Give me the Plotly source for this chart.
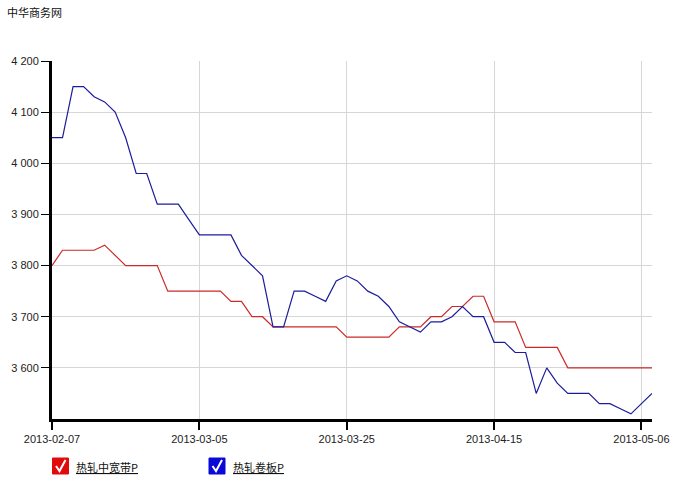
import plotly.graph_objects as go

# ---- data ----
series_names = ["热轧中宽带P", "热轧卷板P"]
red_values = [3800, 3830, 3830, 3830, 3830, 3840, 3820, 3800, 3800, 3800,
              3800, 3750, 3750, 3750, 3750, 3750, 3750, 3730, 3730, 3700,
              3700, 3680, 3680, 3680, 3680, 3680, 3680, 3680, 3660, 3660,
              3660, 3660, 3660, 3680, 3680, 3680, 3700, 3700, 3720, 3720,
              3740, 3740, 3690, 3690, 3690, 3640, 3640, 3640, 3640, 3600,
              3600, 3600, 3600, 3600, 3600, 3600, 3600, 3600]
blue_values = [4050, 4050, 4150, 4150, 4130, 4120, 4100, 4050, 3980, 3980,
               3920, 3920, 3920, 3890, 3860, 3860, 3860, 3860, 3820, 3800,
               3780, 3680, 3680, 3750, 3750, 3740, 3730, 3770, 3780, 3770,
               3750, 3740, 3720, 3690, 3680, 3670, 3690, 3690, 3700, 3720,
               3700, 3700, 3650, 3650, 3630, 3630, 3550, 3600, 3570, 3550,
               3550, 3550, 3530, 3530, 3520, 3510, 3530, 3550]
x_tick_labels = ["2013-02-07", "2013-03-05", "2013-03-25", "2013-04-15", "2013-05-06"]
x_tick_index = [0, 14, 28, 42, 56]
y_tick_values = [3600, 3700, 3800, 3900, 4000, 4100, 4200]
title_text = "中华商务网"

RED = "#cc2a2a"
BLUE = "#1c1c9c"

idx = list(range(len(red_values)))

fig = go.Figure()
fig.add_trace(go.Scatter(x=idx, y=red_values, mode="lines", name=series_names[0],
                         line=dict(color=RED, width=1.2)))
fig.add_trace(go.Scatter(x=idx, y=blue_values, mode="lines", name=series_names[1],
                         line=dict(color=BLUE, width=1.2)))

W, H = 675, 480                 # browser window (body margin removed below)
L, R, T, B = 52, 652, 61, 419   # plot area in window pixels


def px(xp):
    return (xp - L) / (R - L)


def py(yp):
    return (B - yp) / (B - T)


def ytext(v):
    return f"{v:,}".replace(",", " ")


shapes = []
annotations = []
legend_items = [(52.5, 74, "#e00c0c", series_names[0]),
                (209, 230.5, "#0a0ad8", series_names[1])]
for bx, tx, col, name in legend_items:
    shapes.append(dict(type="rect", xref="paper", yref="paper",
                       x0=px(bx), x1=px(bx + 16), y0=py(474), y1=py(458),
                       fillcolor=col, line=dict(color=col, width=1)))
    path = (f"M {px(bx + 3.5)} {py(466)} L {px(bx + 7)} {py(471)} "
            f"L {px(bx + 13)} {py(460)}")
    shapes.append(dict(type="path", xref="paper", yref="paper", path=path,
                       line=dict(color="white", width=2)))
    annotations.append(dict(xref="paper", yref="paper", x=px(tx), y=py(466.5),
                            xanchor="left", yanchor="middle", showarrow=False,
                            text=f"<u>{name}</u>",
                            font=dict(size=11, color="#111",
                                      family="Noto Sans CJK SC")))

annotations.append(dict(xref="paper", yref="paper", x=px(5), y=py(12),
                        xanchor="left", yanchor="middle", showarrow=False,
                        text=title_text,
                        font=dict(size=11, color="#111", family="Noto Sans CJK SC")))

fig.update_layout(
    width=W, height=H,
    margin=dict(l=L, r=W - R, t=T, b=H - B, pad=0, autoexpand=False),
    paper_bgcolor="white", plot_bgcolor="white",
    showlegend=False,
    font=dict(family="Liberation Sans, Arial, sans-serif", size=11, color="#222"),
    shapes=shapes, annotations=annotations,
)
fig.update_xaxes(
    range=[0, len(red_values) - 1], automargin=False,
    tickmode="array", tickvals=x_tick_index, ticktext=x_tick_labels,
    showgrid=True, gridcolor="#d6d6d6", gridwidth=1,
    showline=True, linecolor="black", linewidth=3,
    ticks="outside", ticklen=8, tickwidth=1.5, tickcolor="black",
    zeroline=False, tickfont=dict(size=11, color="#222"),
)
fig.update_yaxes(
    range=[3500, 4200], automargin=False,
    tickmode="array", tickvals=y_tick_values,
    ticktext=[ytext(v) for v in y_tick_values],
    showgrid=True, gridcolor="#d6d6d6", gridwidth=1,
    showline=True, linecolor="black", linewidth=3,
    ticks="outside", ticklen=8, tickwidth=1, tickcolor="black",
    zeroline=False, tickfont=dict(size=11, color="#222"),
)

fig.write_html(
    "out.html",
    config={"displayModeBar": False},
    post_script="document.body.style.margin='0px';"
                "document.body.style.overflow='hidden';",
)
